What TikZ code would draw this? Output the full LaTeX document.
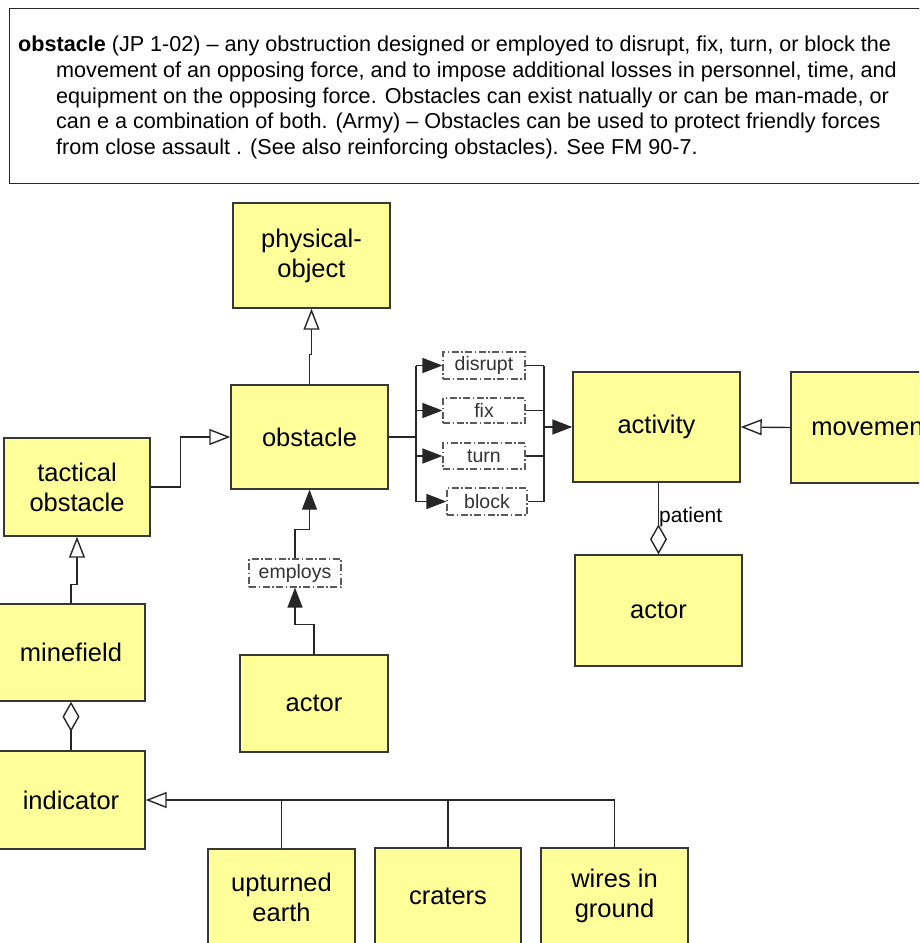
\documentclass[tikz,border=0pt]{standalone}
\usepackage{fontspec}
\setmainfont{Liberation Sans}
\usetikzlibrary{arrows.meta}
\definecolor{boxfill}{RGB}{255,255,153}
\definecolor{boxline}{RGB}{55,55,55}
\definecolor{relline}{RGB}{90,90,90}
\begin{document}
\begin{tikzpicture}[x=1pt,y=-1pt,
  cls/.style={draw=boxline, line width=1.4pt, fill=boxfill, align=center,
    font=\fontsize{25.5}{30}\selectfont, inner sep=0pt},
  relbox/.style={draw=relline, dash pattern=on 7pt off 2.5pt on 1.5pt off 2.5pt,
    line width=1.2pt, fill=white, font=\fontsize{19.5}{20}\selectfont, text=black!80, inner sep=0pt},
  conn/.style={line width=1.4pt, draw=black!85},
  gen/.style={conn, -{Triangle[open,length=21pt,width=16pt,fill=white]}},
  act/.style={conn, -{Triangle[length=20pt,width=15pt]}},
  agg/.style={conn, {Diamond[open,length=30pt,width=17pt,fill=white]}-},
]
\clip (0,0) rectangle (919,943);
\useasboundingbox (0,0) rectangle (919,943);

% definition box
\node[draw=black!85, line width=1.2pt, fill=white, anchor=north west,
  minimum width=930pt, minimum height=175pt, inner sep=0pt] (defbox) at (9,8) {};
\node[anchor=north west, align=left, inner sep=0pt, font=\fontsize{21.6}{25.6}\selectfont] (deftext) at (18,36)
{\textbf{obstacle} (JP 1-02) -- any obstruction designed or employed to disrupt, fix, turn, or block the\\
\hspace*{38pt}movement of an opposing force, and to impose additional losses in personnel, time, and\\
\hspace*{38pt}equipment on the opposing force. Obstacles can exist natually or can be man-made, or\\
\hspace*{38pt}can e a combination of both. (Army) -- Obstacles can be used to protect friendly forces\\
\hspace*{38pt}from close assault . (See also reinforcing obstacles). See FM 90-7.};

% classes
\node[cls, minimum width=157pt, minimum height=105pt] (phys) at (311.5,255.5) {physical-\\object};
\node[cls, minimum width=157pt, minimum height=104pt] (obst) at (309.5,437) {obstacle};
\node[cls, minimum width=146pt, minimum height=98pt] (tact) at (77,487) {tactical\\obstacle};
\node[cls, minimum width=148pt, minimum height=97pt] (mine) at (71,652.5) {minefield};
\node[cls, minimum width=148pt, minimum height=98pt] (ind) at (71,800) {indicator};
\node[cls, minimum width=148pt, minimum height=97pt] (actor1) at (314,703.5) {actor};
\node[cls, minimum width=167pt, minimum height=110pt] (activity) at (656.5,427) {activity};
\node[cls, minimum width=160pt, minimum height=111pt] (movement) at (871,427.5) {movement};
\node[cls, minimum width=167pt, minimum height=111pt] (actor2) at (658.5,610.5) {actor};
\node[cls, minimum width=147pt, minimum height=96pt] (upturned) at (281.5,897) {upturned\\earth};
\node[cls, minimum width=146pt, minimum height=96pt] (craters) at (448,896) {craters};
\node[cls, minimum width=147pt, minimum height=96pt] (wires) at (614.5,896) {wires in\\ground};

% relation labels
\node[relbox, minimum width=82pt, minimum height=27pt] (disrupt) at (484,365.5) {disrupt};
\node[relbox, minimum width=82pt, minimum height=25pt] (fix) at (484,410.5) {fix};
\node[relbox, minimum width=82pt, minimum height=26pt] (turn) at (484,456) {turn};
\node[relbox, minimum width=80pt, minimum height=27pt] (block) at (487,501.5) {block};
\node[relbox, minimum width=92pt, minimum height=28pt] (employs) at (295,573) {employs};

% generalisations
\draw[gen] (obst.north) -- ++(0,-30) -| (phys.south);
\draw[gen] (tact.east) -- ++(30,0) |- (obst.west);
\draw[gen] (mine.north) -- ++(0,-19) -| (tact.south);
\draw[gen] (movement.west) -- (activity.east);
\draw[gen] (wires.north) |- (ind.east);
\draw[conn] (upturned.north) -- (upturned.north |- ind.east);
\draw[conn] (craters.north) -- (craters.north |- ind.east);

% aggregations
\draw[agg] (mine.south) -- (ind.north);
\draw[agg] (actor2.north) -- (actor2.north |- activity.south);
\node[anchor=west, inner sep=0pt, font=\fontsize{21}{22}\selectfont] (patient) at (659,517) {patient};

% employs
\draw[act] (actor1.north) -- ++(0,-30) -| (employs.south);
\draw[act] (employs.north) -- ++(0,-29) -| (obst.south);

% obstacle -> verbs -> activity
\coordinate (busL) at (416,437);
\coordinate (busR) at (544,427);
\draw[conn] (obst.east) -- (busL);
\draw[conn] (busL |- disrupt.west) -- (busL |- block.west);
\draw[act] (busL |- disrupt.west) -- (disrupt.west);
\draw[act] (busL |- fix.west) -- (fix.west);
\draw[act] (busL |- turn.west) -- (turn.west);
\draw[act] (busL |- block.west) -- (block.west);
\draw[conn] (disrupt.east) -- (disrupt.east -| busR);
\draw[conn] (fix.east) -- (fix.east -| busR);
\draw[conn] (turn.east) -- (turn.east -| busR);
\draw[conn] (block.east) -- (block.east -| busR);
\draw[conn] (disrupt.east -| busR) -- (block.east -| busR);
\draw[act] (busR) -- (activity.west);
\end{tikzpicture}
\end{document}
